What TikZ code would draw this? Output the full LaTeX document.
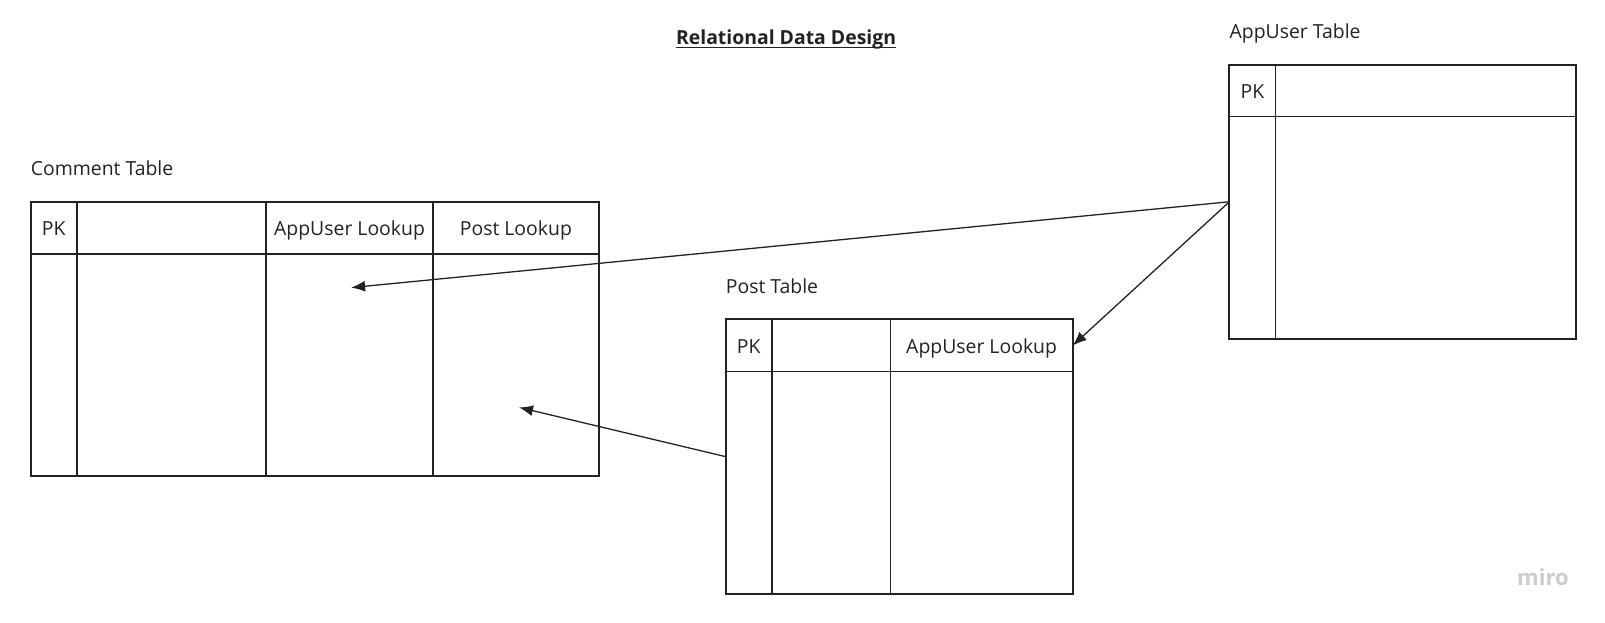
\documentclass[tikz,border=0pt]{standalone}
\usepackage{fontspec}
\setmainfont{Open Sans}
\usetikzlibrary{arrows.meta}
\definecolor{ink}{HTML}{222222}
\definecolor{mirogray}{HTML}{C9CBD7}

\begin{document}
\begin{tikzpicture}[x=1pt,y=1pt,yscale=-1,xscale=1,
  font=\fontsize{19.4}{23}\selectfont,
  outer/.style={draw=ink, line width=2pt, anchor=north west, inner sep=0pt, outer sep=0pt, minimum height=274.5pt},
  cell/.style={anchor=north west, inner sep=0pt, outer sep=0pt, minimum height=52.2pt, text height=16pt, text depth=0pt, text=ink},
  grid/.style={draw=ink, line width=1.4pt},
  caption/.style={anchor=base west, inner sep=0pt, text=ink},
  link/.style={draw=ink, line width=1.3pt, -{Latex[length=14pt,width=11pt]}}]
\useasboundingbox (0,0) rectangle (1605,622);

% Title
\node [anchor=base, inner sep=0pt, text=ink, font=\fontsize{19.4}{23}\selectfont\bfseries] (title) at (786.1,44.3) {Relational Data Design};
\coordinate (titleline) at (0,47.5);
\draw [ink, line width=1.8pt] (title.base west |- titleline) -- (title.base east |- titleline);

%Comment table
\node [caption] (commentcap) at (30.7,175.7) {Comment Table};
\node [outer, minimum width=568.1pt] (comment) at (30.7,201.6) {};
\draw [grid] (30.7,253.9) -- (598.8,253.9);
\draw [grid] (76.8,201.6) -- (76.8,476.1);
\draw [grid] (266.1,201.6) -- (266.1,476.1);
\draw [grid] (433,201.6) -- (433,476.1);
\node [cell, minimum width=46.1pt] (commentpk) at (30.7,201.6) {PK};
\node [cell, minimum width=166.9pt] (commentuser) at (266.1,201.6) {AppUser Lookup};
\node [cell, minimum width=165.8pt] (commentpost) at (433,201.6) {Post Lookup};

%Post table
\node [caption] (postcap) at (725.7,293.3) {Post Table};
\node [outer, minimum width=347pt] (post) at (725.7,319.4) {};
\draw [grid] (725.7,371.6) -- (1072.7,371.6);
\draw [grid] (771.8,319.4) -- (771.8,593.9);
\draw [grid] (890.5,319.4) -- (890.5,593.9);
\node [cell, minimum width=46.1pt] (postpk) at (725.7,319.4) {PK};
\node [cell, minimum width=182.2pt] (postuser) at (890.5,319.4) {AppUser Lookup};

%AppUser table
\node [caption] (appusercap) at (1229.4,38.3) {AppUser Table};
\node [outer, minimum width=346.9pt] (appuser) at (1229.4,64.5) {};
\draw [grid] (1229.4,116.7) -- (1576.3,116.7);
\draw [grid] (1275.4,64.5) -- (1275.4,339);
\node [cell, minimum width=46pt] (appuserpk) at (1229.4,64.5) {PK};

%Links
\coordinate (userend) at (351.1,287.6);
\coordinate (postend) at (519,407.4);
\draw [link] (appuser.west) -- (userend);
\draw [link] (appuser.west) -- (postuser.east);
\draw [link] (post.west) -- (postend);

% watermark
\node [anchor=base west, inner sep=0pt, text=mirogray, font=\fontsize{22}{24}\selectfont\bfseries] (miro) at (1517,585.5) {miro};

\end{tikzpicture}
\end{document}
